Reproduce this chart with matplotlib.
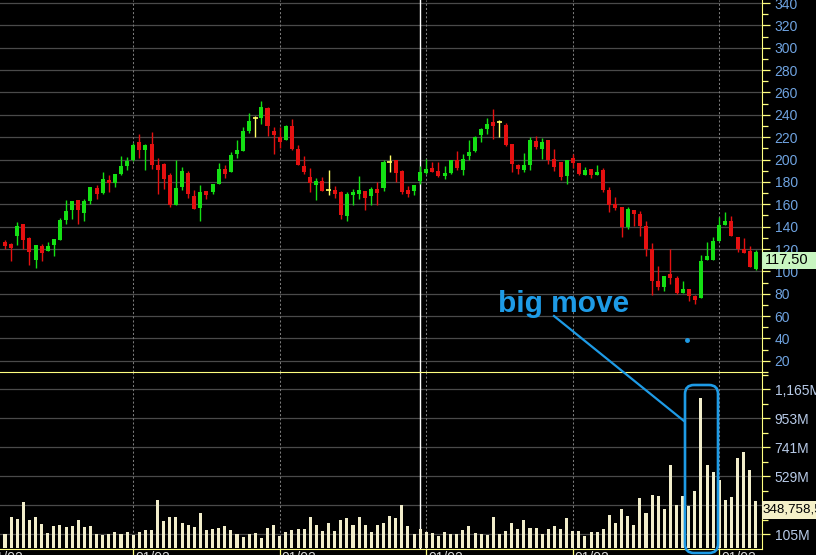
import matplotlib
matplotlib.use('Agg')
import matplotlib.pyplot as plt
import matplotlib.transforms as mtransforms
from matplotlib.patches import FancyBboxPatch, Rectangle
from matplotlib.lines import Line2D
import numpy as np

# ---- data ----
opens = [126.0, 124.8, 132.0, 142.7, 129.6, 109.9, 122.4, 118.6, 123.9, 128.4,
         146.3, 155.2, 164.1, 152.2, 163.2, 174.5, 170.1, 182.0, 179.0, 187.3,
         194.5, 199.2, 215.3, 208.8, 213.8, 194.8, 196.0, 185.8, 159.7, 175.7,
         187.6, 167.1, 156.7, 171.6, 171.0, 178.4, 191.8, 188.8, 204.9, 207.9,
         225.7, 237.0, 237.6, 246.0, 225.7, 219.8, 217.1, 229.6, 209.6, 193.9,
         184.0, 177.5, 180.5, 173.0, 173.0, 170.9, 149.8, 168.0, 169.5, 171.6,
         167.1, 174.0, 174.5, 197.7, 199.2, 189.4, 173.0, 171.6, 180.5, 187.9,
         192.7, 190.0, 185.0, 188.0, 199.2, 190.3, 203.4, 207.9, 222.1, 227.5,
         233.5, 233.5, 230.5, 214.1, 195.4, 190.9, 195.4, 216.8, 209.6, 217.1,
         200.7, 197.4, 184.9, 201.3, 196.8, 186.4, 191.8, 185.8, 190.3, 172.4,
         160.5, 157.3, 139.4, 155.2, 151.6, 140.3, 120.1, 91.2, 86.4, 97.2,
         93.9, 80.8, 84.6, 77.8, 76.3, 110.5, 109.9, 127.5, 141.8, 145.4,
         130.5, 120.1, 118.6, 102.5]
highs = [128.4, 125.0, 144.5, 142.7, 130.8, 123.9, 124.8, 126.0, 129.3, 148.0,
         164.1, 163.2, 164.1, 164.7, 175.1, 176.9, 188.5, 185.8, 187.3, 203.4,
         202.2, 214.7, 223.0, 214.1, 224.5, 201.3, 196.6, 187.6, 199.8, 193.0,
         190.0, 173.0, 176.9, 171.6, 178.1, 196.9, 195.4, 206.7, 217.7, 229.0,
         241.5, 239.0, 252.5, 246.8, 229.0, 228.7, 231.1, 236.4, 213.2, 203.0,
         192.4, 183.5, 184.4, 190.9, 176.6, 171.6, 170.9, 173.7, 185.0, 171.6,
         175.1, 179.9, 199.2, 203.7, 199.2, 190.3, 176.0, 177.2, 193.9, 200.7,
         197.4, 197.4, 193.9, 199.8, 207.3, 204.9, 217.7, 220.7, 228.1, 237.0,
         245.4, 235.0, 232.6, 214.1, 196.0, 205.8, 220.1, 221.2, 219.2, 217.1,
         209.3, 197.4, 199.8, 204.9, 196.8, 193.3, 191.8, 194.8, 192.4, 175.4,
         166.5, 157.3, 157.6, 155.2, 153.7, 145.4, 125.4, 105.2, 96.3, 120.1,
         95.7, 91.8, 84.6, 78.7, 115.0, 126.3, 130.5, 148.6, 153.1, 149.2,
         130.5, 129.9, 123.0, 119.5]
lows = [120.1, 109.0, 123.9, 120.0, 105.5, 102.8, 109.0, 118.0, 113.5, 128.0,
        142.4, 147.1, 142.4, 144.8, 160.2, 165.0, 168.9, 170.7, 175.1, 186.4,
        190.3, 198.3, 201.3, 190.3, 192.0, 169.5, 174.0, 157.9, 159.7, 173.0,
        165.6, 156.1, 145.4, 165.0, 169.5, 178.4, 183.4, 188.8, 201.3, 207.3,
        223.6, 220.1, 231.7, 221.5, 205.2, 210.2, 217.1, 208.8, 194.8, 187.0,
        170.7, 163.5, 171.6, 168.6, 165.6, 146.8, 144.8, 159.1, 164.7, 154.6,
        159.1, 159.7, 171.6, 188.8, 179.9, 169.5, 166.5, 168.0, 178.0, 187.0,
        189.1, 184.4, 182.9, 187.3, 190.9, 186.4, 199.2, 206.7, 215.6, 223.0,
        218.3, 220.1, 211.7, 188.5, 187.3, 188.8, 190.9, 209.3, 200.7, 196.3,
        189.4, 182.0, 178.4, 192.4, 186.4, 186.4, 183.4, 185.8, 171.0, 153.1,
        155.2, 130.5, 138.2, 140.3, 131.4, 113.5, 79.3, 83.5, 82.3, 89.1,
        79.9, 80.8, 73.3, 70.4, 76.3, 109.9, 109.9, 127.5, 141.8, 131.4,
        117.4, 116.2, 103.7, 101.0]
closes = [123.0, 121.2, 140.9, 127.8, 117.1, 123.9, 116.5, 122.4, 129.3, 146.3,
          154.3, 163.2, 155.2, 162.6, 175.1, 169.5, 182.9, 179.0, 187.3, 193.9,
          198.9, 212.6, 208.2, 212.6, 195.4, 190.9, 182.9, 159.1, 174.5, 190.0,
          169.5, 156.1, 170.7, 168.6, 178.1, 191.8, 187.3, 204.3, 208.8, 225.1,
          234.6, 237.0, 246.8, 229.6, 222.1, 215.3, 229.6, 209.6, 195.4, 188.8,
          179.0, 180.5, 171.6, 173.0, 169.5, 150.7, 169.5, 171.0, 173.0, 165.6,
          174.0, 170.0, 197.4, 197.7, 187.9, 170.9, 169.5, 177.2, 188.5, 191.8,
          189.1, 185.0, 188.0, 199.2, 192.4, 200.7, 206.7, 220.1, 227.4, 231.5,
          230.2, 233.5, 212.6, 195.9, 191.8, 194.8, 217.1, 210.8, 215.6, 199.8,
          193.3, 184.0, 199.8, 196.8, 187.3, 190.9, 186.4, 188.5, 172.4, 159.6,
          156.7, 139.4, 155.8, 151.3, 140.9, 120.1, 91.8, 86.4, 96.3, 94.2,
          80.8, 84.6, 77.8, 74.8, 109.6, 113.5, 127.5, 141.8, 145.4, 131.4,
          120.1, 116.2, 103.7, 117.5]
volumes = [105, 232, 215, 339, 208, 232, 178, 115, 166, 171,
           156, 166, 208, 156, 164, 105, 98, 105, 120, 105,
           120, 98, 120, 135, 135, 354, 200, 230, 230, 186,
           171, 156, 259, 135, 142, 149, 164, 135, 105, 83,
           105, 112, 76, 149, 171, 90, 120, 135, 142, 142,
           230, 171, 127, 186, 127, 208, 222, 171, 230, 171,
           120, 171, 186, 237, 222, 317, 164, 105, 139, 117,
           112, 90, 120, 105, 105, 135, 164, 112, 105, 98,
           230, 105, 127, 186, 142, 208, 149, 149, 105, 142,
           164, 142, 222, 127, 127, 90, 120, 120, 142, 244,
           186, 288, 237, 171, 369, 259, 391, 383, 288, 610,
           317, 383, 310, 420, 1100, 610, 560, 500, 354, 376,
           661, 705, 573, 348.76]  # millions

last_price = 117.50
last_volume_label = '348,758,5'
price_ticks = list(range(20, 341, 20))
vol_ticks = [105, 317, 529, 741, 953, 1165]
vol_tick_labels = ['105M', '', '529M', '741M', '953M', '1,165M']
date_ticks = [21, 45, 69, 93, 117]
date_labels = ['01/02', '01/02', '01/02', '01/02', '01/02', '01/02']
cursor_bar = 68

# ---- colours ----
UP = '#14e014'
DOWN = '#e41010'
DOJI = '#ffff66'
VOL = '#f2eecb'
GRID = '#4a4a4a'
AXIS = '#ffff80'
PRICE_TXT = '#6fa3e0'
VOL_TXT = '#b8cbe8'
NOTE = '#1e9be6'

plt.rcParams['font.family'] = ['Liberation Sans', 'DejaVu Sans']

W, H = 816, 555
fig = plt.figure(figsize=(W / 100, H / 100), dpi=100, facecolor='black')
ax_p = fig.add_axes([0, 1 - 372 / H, 762 / W, 372 / H], facecolor='black')
ax_v = fig.add_axes([0, 1 - 549 / H, 762 / W, (549 - 372) / H], facecolor='black', sharex=ax_p)

n = len(closes)
x = np.arange(n)
o = np.array(opens); c = np.array(closes); hi = np.array(highs); lo = np.array(lows)

for ax in (ax_p, ax_v):
    for d in date_ticks:
        ax.axvline(d, color='#7a7a7a', lw=0.75, ls=(0, (2, 2)), zorder=1)
    ax.axvline(cursor_bar, color='white', lw=1.0, zorder=1.5)

# price panel
for yv in price_ticks:
    ax_p.axhline(yv, color=GRID, lw=0.9, zorder=0.5)

up = c > o
down = c < o
doji = c == o
cols = np.where(up, UP, np.where(down, DOWN, DOJI))
ax_p.vlines(x, lo, hi, colors=cols, lw=1.0, zorder=3)
body_lo = np.minimum(o, c)
body_h = np.maximum(np.abs(c - o), 0.8)
ax_p.bar(x[~doji], body_h[~doji], bottom=body_lo[~doji], width=0.66,
         color=cols[~doji], linewidth=0, zorder=4)
ax_p.hlines(o[doji], x[doji] - 0.38, x[doji] + 0.38, colors=DOJI, lw=1.2, zorder=4)

ax_p.set_ylim(10.5, 342.7)
ax_p.set_xlim(-0.82, 124.0)

# volume panel
for yv in vol_ticks:
    ax_v.axhline(yv, color=GRID, lw=0.9, zorder=0.5)
ax_v.bar(x, volumes, width=0.5, color=VOL, linewidth=0, zorder=3)
ax_v.set_ylim(-4, 1290)

# axes styling
for ax in (ax_p, ax_v):
    ax.spines['left'].set_visible(False)
    ax.spines['right'].set_color(AXIS)
    ax.spines['top'].set_visible(False)
    ax.spines['bottom'].set_visible(False)
    ax.yaxis.tick_right()
    ax.tick_params(axis='y', which='both', colors=AXIS, direction='out', width=0.9, pad=3)
    ax.tick_params(axis='y', which='major', length=6)
    ax.tick_params(axis='y', which='minor', length=4)

ax_v.spines['top'].set_visible(True)
ax_v.spines['top'].set_color(AXIS)
ax_v.spines['bottom'].set_visible(True)
ax_v.spines['bottom'].set_color(AXIS)

ax_p.set_yticks(price_ticks)
ax_p.set_yticks(list(range(10, 341, 10)), minor=True)
ax_p.set_yticklabels([str(t) for t in price_ticks], color=PRICE_TXT, fontsize=10)

ax_v.set_yticks(vol_ticks)
ax_v.set_yticks([211, 423, 635, 847, 1059, 1271], minor=True)
ax_v.set_yticklabels(vol_tick_labels, color=VOL_TXT, fontsize=10)

ax_p.tick_params(axis='x', which='both', bottom=False, labelbottom=False)
ax_v.set_xticks(date_ticks)
ax_v.tick_params(axis='x', colors=AXIS, direction='out', length=6, width=0.9, labelbottom=False)

# date labels, mostly cut off by the bottom of the image
for d, lab in zip([-3] + date_ticks, date_labels):
    ax_v.annotate(lab, xy=(d, 0), xycoords=('data', 'axes fraction'),
                  xytext=(2, -2), textcoords='offset pixels', ha='left', va='top',
                  color='#d8d8d8', fontsize=10, annotation_clip=False)

# last price / last volume tags (top edge at value)
blend_p = mtransforms.blended_transform_factory(ax_p.transAxes, ax_p.transData)
tag_h_p = 17 / 1.12
ax_p.add_patch(Rectangle((1.0, last_price - tag_h_p), 54 / 762, tag_h_p, transform=blend_p,
                         facecolor='#c8f5c0', edgecolor='none', clip_on=False, zorder=10))
ax_p.text(1.0 + 3 / 762, last_price - tag_h_p / 2, '%.2f' % last_price, transform=blend_p,
          ha='left', va='center', color='black', fontsize=10.5, clip_on=False, zorder=11)

blend_v = mtransforms.blended_transform_factory(ax_v.transAxes, ax_v.transData)
tag_h_v = 18 * 7.31
ax_v.add_patch(Rectangle((1.0, volumes[-1] - tag_h_v), 54 / 762, tag_h_v, transform=blend_v,
                         facecolor='#f5f0c8', edgecolor='none', clip_on=False, zorder=10))
ax_v.text(1.0 + 1 / 762, volumes[-1] - tag_h_v / 2, last_volume_label, transform=blend_v,
          ha='left', va='center', color='black', fontsize=9.6, clip_on=False, zorder=11)

# hand-drawn "big move" note (in pixels from the bottom-left, /100 = inches)
tr = fig.dpi_scale_trans
fig.text(5.64, 2.43, 'big move', transform=tr, ha='center', va='baseline',
         color=NOTE, fontsize=21.5, fontweight='bold')
fig.add_artist(Line2D([5.54, 6.84], [2.39, 1.34], transform=tr, color=NOTE, lw=1.6))
fig.add_artist(FancyBboxPatch((6.85, 0.02), 0.33, 1.68, transform=tr,
                              boxstyle='round,pad=0,rounding_size=0.09',
                              facecolor='none', edgecolor=NOTE, lw=1.9))
fig.add_artist(Line2D([6.87], [2.15], transform=tr, color=NOTE, marker='o', ms=2.5, lw=0))

fig.savefig('out.png', dpi=100, facecolor='black')
